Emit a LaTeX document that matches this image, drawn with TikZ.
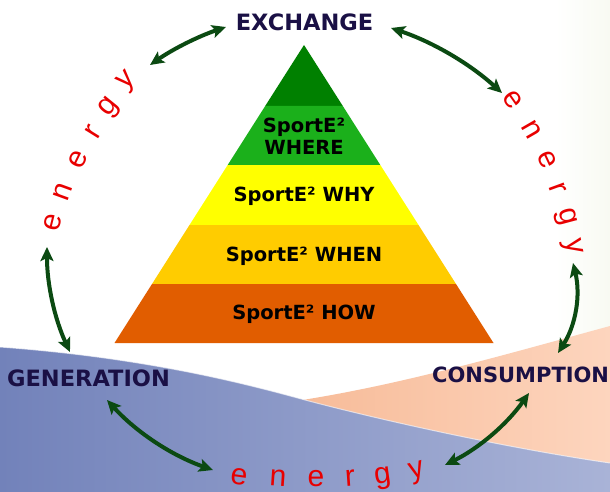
\documentclass[tikz,border=0pt]{standalone}
\usepackage{fontspec}
\setmainfont{DejaVu Sans}
\newfontfamily\enfont{Liberation Sans}
\usetikzlibrary{arrows.meta}
\definecolor{navy}{HTML}{1A1045}
\definecolor{arrowgreen}{HTML}{0B4A12}
\definecolor{enred}{HTML}{E80000}
\definecolor{pdark}{HTML}{008000}
\definecolor{pgreen}{HTML}{1BB01B}
\definecolor{pyellow}{HTML}{FFFF00}
\definecolor{pgold}{HTML}{FFCC00}
\definecolor{porange}{HTML}{E15D00}
\definecolor{blueL}{HTML}{7282BA}
\definecolor{blueR}{HTML}{A9B3D7}
\definecolor{peachL}{HTML}{F7BB98}
\definecolor{peachR}{HTML}{FDD5BE}
\definecolor{paleR}{HTML}{F8FAF2}
\begin{document}
\begin{tikzpicture}[x=1pt,y=-1pt,
  lab/.style={font=\fontsize{22.5}{25}\selectfont\bfseries, text=navy, inner sep=0pt},
  tier/.style={font=\fontsize{19.5}{22}\selectfont\bfseries, text=black, inner sep=0pt, align=center},
  en/.style={font=\enfont\fontsize{30}{32}\selectfont, text=enred, inner sep=0pt},
  flow/.style={draw=arrowgreen, line width=4pt,
    {Stealth[length=14pt,width=13pt,inset=3pt]}-{Stealth[length=14pt,width=13pt,inset=3pt]}},
]
\useasboundingbox (0,0) rectangle (610,492);
\fill[white] (0,0) rectangle (610,492);
% background
\shade[left color=white, right color=paleR] (555,0) rectangle (610,340);
\shade[left color=peachL, right color=peachR]
  (296,401) .. controls (400,385) and (500,356) .. (610,326) -- (610,492) -- (296,492) -- cycle;
\shade[left color=blueL, right color=blueR]
  (0,347) .. controls (150,358) and (250,385) .. (305,400) .. controls (400,425) and (520,450) .. (610,463)
  -- (610,492) -- (0,492) -- cycle;
\draw[white, opacity=0.6, line width=1pt]
  (0,347) .. controls (150,358) and (250,385) .. (305,400) .. controls (400,425) and (520,450) .. (610,463);
% pyramid
\fill[pdark]   (304,45) -- (265.2,106) -- (342.8,106) -- cycle;
\fill[pgreen]  (265.2,106) -- (227.7,165) -- (380.3,165) -- (342.8,106) -- cycle;
\fill[pyellow] (227.7,165) -- (189.5,225) -- (418.5,225) -- (380.3,165) -- cycle;
\fill[pgold]   (189.5,225) -- (152,284) -- (456,284) -- (418.5,225) -- cycle;
\fill[porange] (152,284) -- (114.5,343) -- (493.5,343) -- (456,284) -- cycle;
\node[tier] (where) at (304,136) {SportE² \\ WHERE};
\node[tier] (why)   at (304,196) {SportE² WHY};
\node[tier] (when)  at (304,256) {SportE² WHEN};
\node[tier] (how)   at (304,314) {SportE² HOW};
% labels
\node[lab] (exchange) at (304.5,22) {EXCHANGE};
\node[lab] (generation) at (88.5,378) {GENERATION};
\node[lab, anchor=west, font=\fontsize{21}{24}\selectfont\bfseries] (consumption) at (432,375) {CONSUMPTION};
% energy, left arc
\node[en, rotate=76] (le1) at (53,222) {e};
\node[en, rotate=70] (le2) at (63,192) {n};
\node[en, rotate=64] (le3) at (78,160) {e};
\node[en, rotate=58] (le4) at (93,132) {r};
\node[en, rotate=51] (le5) at (110,108) {g};
\node[en, rotate=44] (le6) at (128,82) {y};
% energy, right arc
\node[en, rotate=-55] (re1) at (513,100) {e};
\node[en, rotate=-60] (re2) at (532,130) {n};
\node[en, rotate=-65] (re3) at (547,160) {e};
\node[en, rotate=-70] (re4) at (558,188) {r};
\node[en, rotate=-75] (re5) at (565,217) {g};
\node[en, rotate=-79] (re6) at (572,247) {y};
% energy, bottom arc
\node[en, rotate=-8] (be1) at (239,477) {e};
\node[en, rotate=-4] (be2) at (278,478) {n};
\node[en, rotate=0]  (be3) at (316,479) {e};
\node[en, rotate=4]  (be4) at (350,478) {r};
\node[en, rotate=8]  (be5) at (383,478) {g};
\node[en, rotate=15] (be6) at (417,473) {y};
% arrow ends
\coordinate (a1s) at (150,65);  \coordinate (a1e) at (226,27);
\coordinate (a2s) at (391,28);  \coordinate (a2e) at (502,93);
\coordinate (a3s) at (47,247);  \coordinate (a3e) at (70,352);
\coordinate (a4s) at (573,263); \coordinate (a4e) at (558,353);
\coordinate (a5s) at (107,400); \coordinate (a5e) at (213,470);
\coordinate (a6s) at (529,393); \coordinate (a6e) at (445,465);
\draw[flow] (a1s) .. controls (173.5,48.7) and (198.9,36.1) .. (a1e);
\draw[flow] (a2s) .. controls (432.5,41.9) and (469.5,63.5) .. (a2e);
\draw[flow] (a3s) .. controls (46.9,283.7) and (54.5,318.7) .. (a3e);
\draw[flow] (a4s) .. controls (580.8,295.1) and (575.8,325.1) .. (a4e);
\draw[flow] (a5s) .. controls (136.4,432.2) and (171.8,455.6) .. (a5e);
\draw[flow] (a6s) .. controls (507.1,424.1) and (479.1,448.1) .. (a6e);
\end{tikzpicture}
\end{document}
